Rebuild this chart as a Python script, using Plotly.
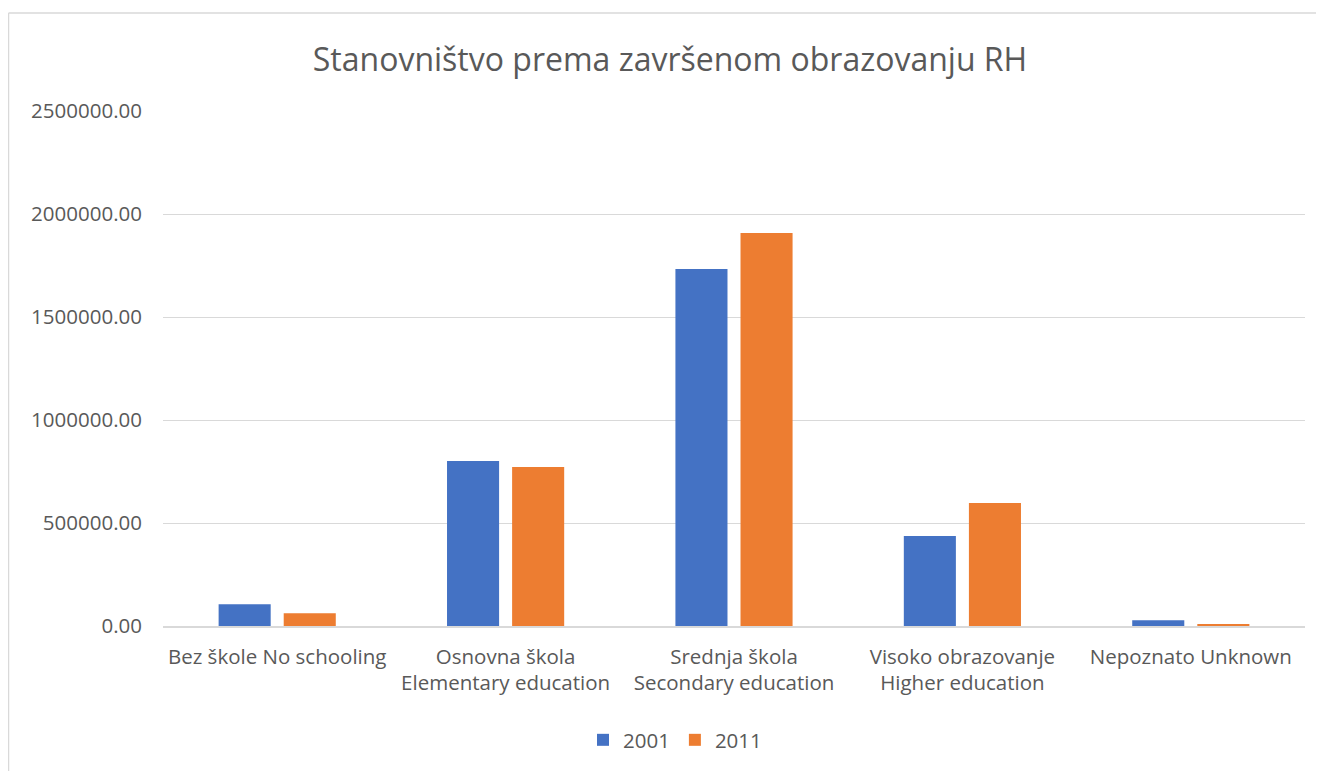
import plotly.graph_objects as go

categories = ["Bez škole No schooling", "Osnovna škola<br>Elementary education",
              "Srednja škola<br>Secondary education", "Visoko obrazovanje<br>Higher education",
              "Nepoznato Unknown"]
values_2001 = [105000, 801000, 1733000, 437000, 28000]
values_2011 = [62000, 772000, 1908000, 597000, 9000]

# page is offset by 8px body margin, compensate
OFF = 8
W, H = 1324 - OFF, 771 - OFF
L, R, T, B = 163 - OFF, 19, 111 - OFF, 145
ph = H - T - B
pw = W - L - R

fig = go.Figure()
fig.add_bar(x=categories, y=values_2001, name="2001", marker_color="#4472C4", marker_line_width=0)
fig.add_bar(x=categories, y=values_2011, name="2011", marker_color="#ED7D31", marker_line_width=0)

font = "Open Sans, Segoe UI, sans-serif"
fig.update_layout(
    width=W, height=H,
    margin=dict(l=L, r=R, t=T, b=B, autoexpand=False),
    paper_bgcolor="white", plot_bgcolor="white",
    barmode="group", bargap=0.43, bargroupgap=0.2,
    font=dict(family=font, color="#595959", size=21),
    title=dict(text="Stanovništvo prema završenom obrazovanju RH",
               x=(670 - OFF) / W, xanchor="center", y=1 - (60 - OFF) / H, yanchor="middle",
               font=dict(size=32, color="#595959", family=font)),
    xaxis=dict(showgrid=False, showline=True, linecolor="#d9d9d9", linewidth=2,
               ticks="", ticklabelstandoff=11, tickfont=dict(size=20.5, color="#595959")),
    yaxis=dict(range=[0, 2500000], dtick=500000, tickformat=".2f",
               showgrid=True, gridcolor="#d9d9d9", gridwidth=1, zeroline=False,
               showline=False, ticks="", ticklabelstandoff=20,
               tickfont=dict(size=20.5, color="#595959")),
    legend=dict(orientation="h", x=(675 - L - OFF) / pw, xanchor="center",
                y=-(740 - OFF - (T + ph)) / ph,
                yanchor="middle", font=dict(size=20.5, color="#595959"),
                itemwidth=30, traceorder="normal"),
    showlegend=True,
)

# outer chart border
x0 = (0.5 - L) / pw
y1 = (H - B - (13 - OFF)) / ph
fig.add_shape(type="line", xref="paper", yref="paper", x0=x0, x1=(W - L) / pw, y0=y1, y1=y1,
              line=dict(color="#d9d9d9", width=1.5))
fig.add_shape(type="line", xref="paper", yref="paper", x0=x0, x1=x0, y0=y1, y1=-(B) / ph,
              line=dict(color="#d9d9d9", width=1.5))

fig.write_html("out.html")
